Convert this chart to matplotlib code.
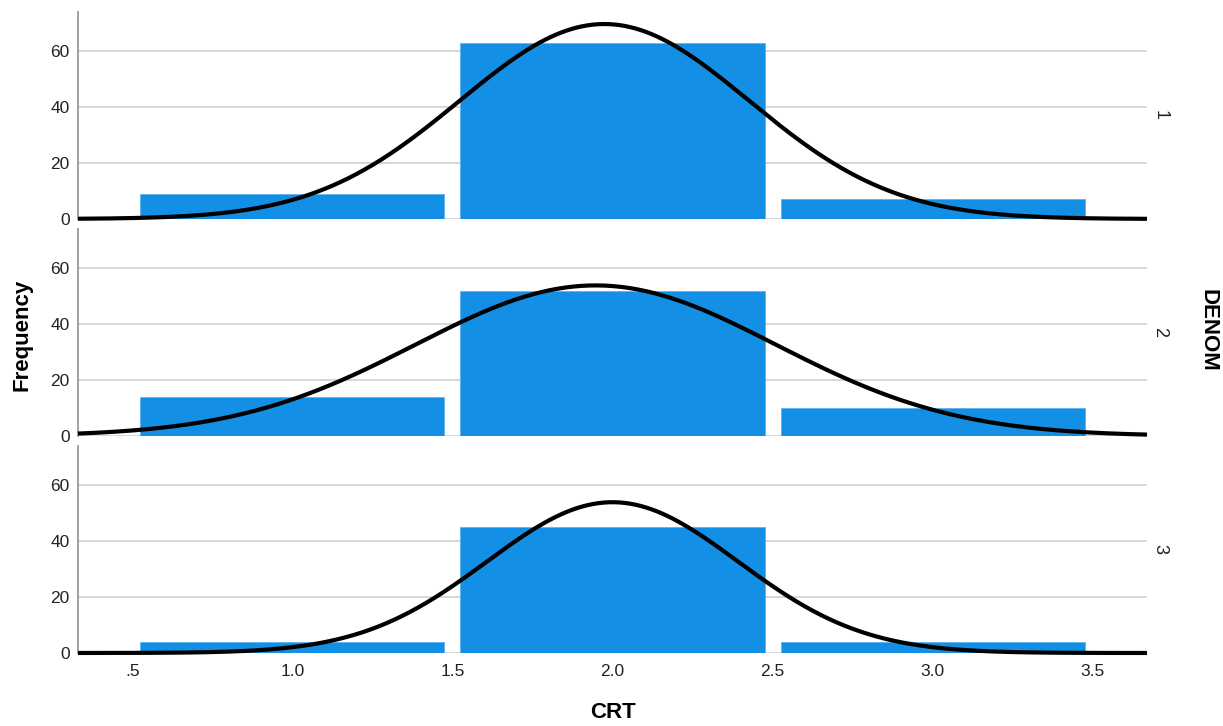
"""Histogram of CRT by DENOM group, with a fitted normal curve per panel."""

import numpy as np
import matplotlib
matplotlib.use("Agg")
import matplotlib.pyplot as plt

plt.rcParams["font.family"] = ["Liberation Sans", "DejaVu Sans"]

CRT_VALUES = [1, 2, 3]
GROUPS = ["1", "2", "3"]
COUNTS = {
    "1": [9, 63, 7],
    "2": [14, 52, 10],
    "3": [4, 45, 4],
}
Y_TICKS = [0, 20, 40, 60]
X_TICKS = [0.5, 1.0, 1.5, 2.0, 2.5, 3.0, 3.5]
X_TICK_LABELS = [".5", "1.0", "1.5", "2.0", "2.5", "3.0", "3.5"]

BAR = "#1390e6"
GRID = "#d3d3d3"
SPINE = "#9a9a9a"
TXT = "#222222"

W, H = 1223, 726
fig = plt.figure(figsize=(W / 100, H / 100), dpi=100)
fig.patch.set_facecolor("white")

left, right = 78 / W, 1147 / W
panel_tops = [12, 229, 446]
panel_h = 207

xs = np.linspace(0.33, 3.67, 400)
for i, (grp, top) in enumerate(zip(GROUPS, panel_tops)):
    bottom = top + panel_h
    ax = fig.add_axes([left, 1 - bottom / H, right - left, panel_h / H])
    counts = np.array(COUNTS[grp], dtype=float)
    vals = np.array(CRT_VALUES, dtype=float)

    ax.bar(vals, counts, width=0.95, color=BAR, edgecolor="#5fb3ee", linewidth=0.6, zorder=2)

    # normal curve fitted to the grouped data, scaled to counts (bin width 1)
    n = counts.sum()
    mean = (counts * vals).sum() / n
    sd = np.sqrt((counts * (vals - mean) ** 2).sum() / (n - 1))
    curve = n / (sd * np.sqrt(2 * np.pi)) * np.exp(-0.5 * ((xs - mean) / sd) ** 2)
    ax.plot(xs, curve, color="black", lw=3.0, zorder=3, clip_on=False, solid_capstyle="butt")

    ax.set_xlim(0.33, 3.67)
    ax.set_ylim(0, 74)
    ax.set_yticks(Y_TICKS)
    ax.yaxis.grid(True, color=GRID, lw=1.3, zorder=0)
    ax.set_axisbelow(True)
    ax.tick_params(axis="y", length=0, pad=6, labelsize=12.5, labelcolor=TXT)
    for s in ("top", "right", "bottom"):
        ax.spines[s].set_visible(False)
    ax.spines["left"].set_color(SPINE)
    ax.spines["left"].set_linewidth(1.3)

    if i == len(GROUPS) - 1:
        ax.set_xticks(X_TICKS)
        ax.set_xticklabels(X_TICK_LABELS)
        ax.tick_params(axis="x", length=0, pad=8, labelsize=12.5, labelcolor=TXT)
    else:
        ax.set_xticks([])

    ax.text(1160 / W, 1 - (top + panel_h / 2) / H, grp, transform=fig.transFigure,
            rotation=-90, ha="center", va="center", fontsize=13, color=TXT)

fig.text(22 / W, 1 - 335 / H, "Frequency", rotation=90, ha="center", va="center",
         fontsize=16, fontweight="bold", color="black")
fig.text(1208 / W, 1 - 330 / H, "DENOM", rotation=-90, ha="center", va="center",
         fontsize=16, fontweight="bold", color="black")
fig.text(613 / W, 1 - 712 / H, "CRT", ha="center", va="center",
         fontsize=16, fontweight="bold", color="black")

fig.savefig("out.png", dpi=100, facecolor="white")
